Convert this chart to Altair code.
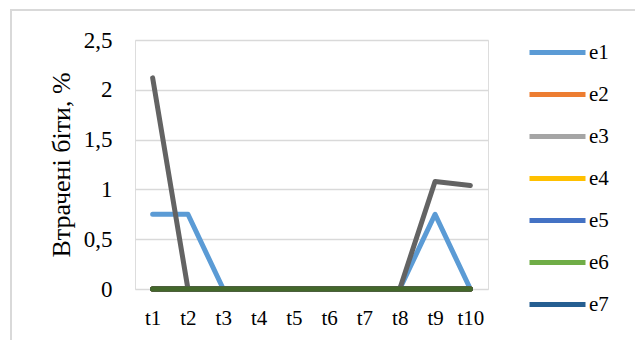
import altair as alt
import pandas as pd

# Time slots along the x axis
periods = ["t1", "t2", "t3", "t4", "t5", "t6", "t7", "t8", "t9", "t10"]

# Lost bits, % for every error scenario
e1 = [0.75, 0.75, 0, 0, 0, 0, 0, 0, 0.75, 0]
e2 = [0, 0, 0, 0, 0, 0, 0, 0, 0, 0]
e3 = [0, 0, 0, 0, 0, 0, 0, 0, 0, 0]
e4 = [0, 0, 0, 0, 0, 0, 0, 0, 0, 0]
e5 = [0, 0, 0, 0, 0, 0, 0, 0, 0, 0]
e6 = [0, 0, 0, 0, 0, 0, 0, 0, 0, 0]
e7 = [0, 0, 0, 0, 0, 0, 0, 0, 0, 0]
e8 = [0, 0, 0, 0, 0, 0, 0, 0, 0, 0]
e9 = [2.12, 0, 0, 0, 0, 0, 0, 0, 1.08, 1.04]
e10 = [0, 0, 0, 0, 0, 0, 0, 0, 0, 0]
e11 = [0, 0, 0, 0, 0, 0, 0, 0, 0, 0]
e12 = [0, 0, 0, 0, 0, 0, 0, 0, 0, 0]

series = {
    "e1": e1, "e2": e2, "e3": e3, "e4": e4, "e5": e5, "e6": e6,
    "e7": e7, "e8": e8, "e9": e9, "e10": e10, "e11": e11, "e12": e12,
}
series_names = list(series.keys())
legend_names = ["e1", "e2", "e3", "e4", "e5", "e6", "e7"]
palette = ["#5B9BD5", "#ED7D31", "#A5A5A5", "#FFC000", "#4472C4", "#70AD47",
           "#255E91", "#9E480E", "#636363", "#997300", "#264478", "#43682B"]

rows = []
for idx, (name, values) in enumerate(series.items()):
    for p, v in zip(periods, values):
        rows.append({"period": p, "series": name, "value": v, "rank": idx})
df = pd.DataFrame(rows)

FONT = "Liberation Serif"
W, H = 353, 249
LEFT, TOP = 135, 40

# Light grey frame around the chart area (top and left edges visible)
frame = alt.Chart(pd.DataFrame({"k": [0]})).mark_rect(
    fill=None, stroke="#D9D9D9", strokeWidth=2
).encode(
    x=alt.value(11 - LEFT), x2=alt.value(660 - LEFT),
    y=alt.value(10 - TOP), y2=alt.value(360 - TOP),
)

lines = alt.Chart(df).mark_line(strokeWidth=5, strokeCap="round", strokeJoin="round").encode(
    x=alt.X("period:N", sort=periods, title=None,
            scale=alt.Scale(paddingOuter=0.5, paddingInner=0),
            axis=alt.Axis(labelAngle=0, ticks=False, domain=False, labelPadding=18,
                          labelFont=FONT, labelFontSize=21, labelColor="#000")),
    y=alt.Y("value:Q", title="Втрачені біти, %",
            scale=alt.Scale(domain=[0, 2.5], nice=False),
            axis=alt.Axis(values=[0, 0.5, 1, 1.5, 2, 2.5], ticks=False, domain=False,
                          format="~g",
                          labelPadding=23, labelFont=FONT, labelFontSize=23,
                          labelColor="#000",
                          labelExpr="replace(datum.label, '.', ',')",
                          gridColor="#D9D9D9", gridWidth=1.5,
                          titleFont=FONT, titleFontSize=26, titleFontWeight="normal",
                          titleColor="#000", titlePadding=9)),
    color=alt.Color("series:N", sort=series_names,
                    scale=alt.Scale(domain=series_names, range=palette),
                    legend=alt.Legend(values=legend_names, title=None, orient="none",
                                      legendX=392, legendY=-18,
                                      symbolType="stroke", symbolSize=3136,
                                      symbolStrokeWidth=5, labelFont=FONT,
                                      labelFontSize=21, labelColor="#000",
                                      labelOffset=1, rowPadding=1)),
    order=alt.Order("rank:Q"),
)

chart = alt.layer(frame, lines).properties(
    width=W, height=H,
    autosize=alt.AutoSizeParams(type="none"),
    padding={"left": LEFT, "top": TOP, "right": 635 - LEFT - W, "bottom": 340 - TOP - H},
).configure_view(stroke=None).configure(background="white")

chart.save("out.html", embed_options={"renderer": "svg", "actions": False})
